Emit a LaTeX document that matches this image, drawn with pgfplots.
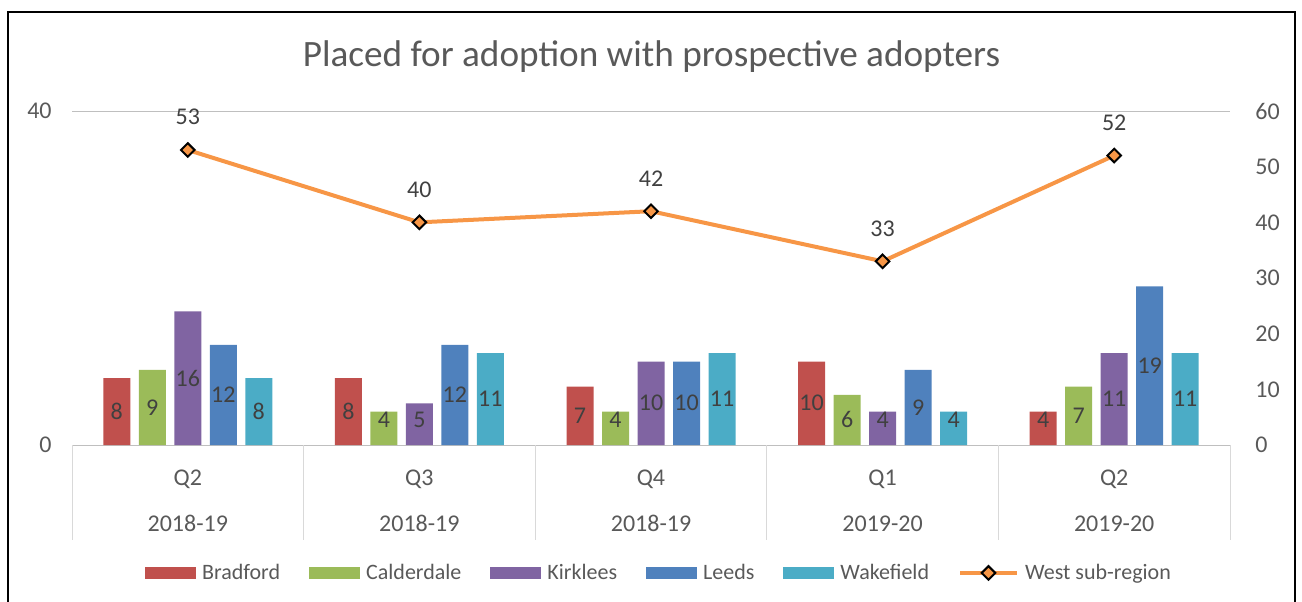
\documentclass[border=0pt]{standalone}
\usepackage{fontspec}
\setmainfont{Carlito}
\usepackage{pgfplots}
\pgfplotsset{compat=1.18}
\usetikzlibrary{calc}
\definecolor{bradford}{HTML}{C0504D}
\definecolor{calderdale}{HTML}{9BBB59}
\definecolor{kirklees}{HTML}{8064A2}
\definecolor{leeds}{HTML}{4F81BD}
\definecolor{wakefield}{HTML}{4BACC6}
\definecolor{west}{HTML}{F79646}
\definecolor{txt}{HTML}{595959}
\definecolor{lab}{HTML}{404040}
\definecolor{grid}{HTML}{D9D9D9}
\pgfplotsset{
  /pgf/number format/assume math mode=true,
  barlegend/.style={legend image code/.code={\fill[##1,draw=none] (0pt,-3pt) rectangle (25.5pt,3pt);}},
  linelegend/.style={legend image code/.code={\draw[##1,mark repeat=2,mark phase=2]
    plot coordinates {(0pt,0pt) (14.25pt,0pt) (28.5pt,0pt)};}},
  frame/.style={scale only axis,width=579pt,height=167pt,
    xmin=-0.5,xmax=4.5,clip=false,axis line style={draw=none},
    tick style={draw=none},
    tick label style={font=\fontsize{12}{14}\selectfont,text=txt}},
}
\tikzset{cat/.style={anchor=base,text=txt,font=\fontsize{12}{14}\selectfont}}
\begin{document}
\begin{tikzpicture}
% bars, left axis
\begin{axis}[frame,
  ymin=0,ymax=40,ytick={0,40},xtick=\empty,
  ymajorgrids,major grid style={grid,line width=0.5pt},
  yticklabel style={anchor=east,inner sep=0pt,xshift=-10pt},
  ybar,bar width=13.5pt,
  nodes near coords,
  visualization depends on={y \as \rawy},
  every node near coord/.append style={anchor=center,text=lab,
    font=\fontsize{12}{14}\selectfont,
    yshift={(max(\rawy/2,3)-\rawy)*4.175pt}},
]
\addplot[fill=bradford,draw=none,bar shift=-35.5pt] coordinates {(0,8) (1,8) (2,7) (3,10) (4,4)};
\addplot[fill=calderdale,draw=none,bar shift=-17.75pt] coordinates {(0,9) (1,4) (2,4) (3,6) (4,7)};
\addplot[fill=kirklees,draw=none,bar shift=0pt] coordinates {(0,16) (1,5) (2,10) (3,4) (4,11)};
\addplot[fill=leeds,draw=none,bar shift=17.75pt] coordinates {(0,12) (1,12) (2,10) (3,9) (4,19)};
\addplot[fill=wakefield,draw=none,bar shift=35.5pt] coordinates {(0,8) (1,11) (2,11) (3,4) (4,11)};

\coordinate (O) at (axis cs:0,0);
\draw[grid,line width=0.5pt] (axis cs:-0.5,0) -- ++(0pt,-47.5pt);
\draw[grid,line width=0.5pt] (axis cs:0.5,0) -- ++(0pt,-47.5pt);
\draw[grid,line width=0.5pt] (axis cs:1.5,0) -- ++(0pt,-47.5pt);
\draw[grid,line width=0.5pt] (axis cs:2.5,0) -- ++(0pt,-47.5pt);
\draw[grid,line width=0.5pt] (axis cs:3.5,0) -- ++(0pt,-47.5pt);
\draw[grid,line width=0.5pt] (axis cs:4.5,0) -- ++(0pt,-47.5pt);
\path (axis cs:0,0) node[cat,yshift=-20pt]{Q2} node[cat,yshift=-43.3pt]{2018-19};
\path (axis cs:1,0) node[cat,yshift=-20pt]{Q3} node[cat,yshift=-43.3pt]{2018-19};
\path (axis cs:2,0) node[cat,yshift=-20pt]{Q4} node[cat,yshift=-43.3pt]{2018-19};
\path (axis cs:3,0) node[cat,yshift=-20pt]{Q1} node[cat,yshift=-43.3pt]{2019-20};
\path (axis cs:4,0) node[cat,yshift=-20pt]{Q2} node[cat,yshift=-43.3pt]{2019-20};
\end{axis}

% line, right axis
\begin{axis}[frame,at={(O)},anchor=origin,
  ymin=0,ymax=60,ytick={0,10,...,60},
  axis y line*=right,axis x line=none,
  yticklabel style={anchor=west,inner sep=0pt,xshift=12.5pt},
  legend style={at={(0.5073,-0.383)},anchor=center,draw=none,fill=none,
    legend columns=6,font=\fontsize{11}{13}\selectfont,text=txt,
    nodes={inner sep=1.5pt},
    /tikz/every odd column/.append style={column sep=1.5pt},
    /tikz/every even column/.append style={column sep=13pt}},
  legend cell align=left,
]
\addlegendimage{barlegend,fill=bradford}
\addlegendentry{Bradford}
\addlegendimage{barlegend,fill=calderdale}
\addlegendentry{Calderdale}
\addlegendimage{barlegend,fill=kirklees}
\addlegendentry{Kirklees}
\addlegendimage{barlegend,fill=leeds}
\addlegendentry{Leeds}
\addlegendimage{barlegend,fill=wakefield}
\addlegendentry{Wakefield}
\addplot[west,line width=2pt,mark=square*,mark size=2.4pt,
  mark options={fill=west,draw=black,line width=1pt,rotate=45},
  nodes near coords,
  every node near coord/.append style={anchor=center,yshift=16.5pt,text=lab,
    font=\fontsize{12}{14}\selectfont},
  linelegend]
  coordinates {(0,53) (1,40) (2,42) (3,33) (4,52)};
\addlegendentry{West sub-region}
\end{axis}

\pgfresetboundingbox
\begin{scope}[shift={($(O)+(-93.9pt,-78pt)$)},x=1pt,y=1pt]
\path[use as bounding box] (0,0) rectangle (651,300.5);
\draw[line width=1pt] (4,-5) -- (4,294.5) -- (647.5,294.5) -- (647.5,-5);
\node[text=txt,font=\fontsize{18.6}{21}\selectfont] at (325.75,272) {Placed for adoption with prospective adopters};
\end{scope}
\end{tikzpicture}
\end{document}
